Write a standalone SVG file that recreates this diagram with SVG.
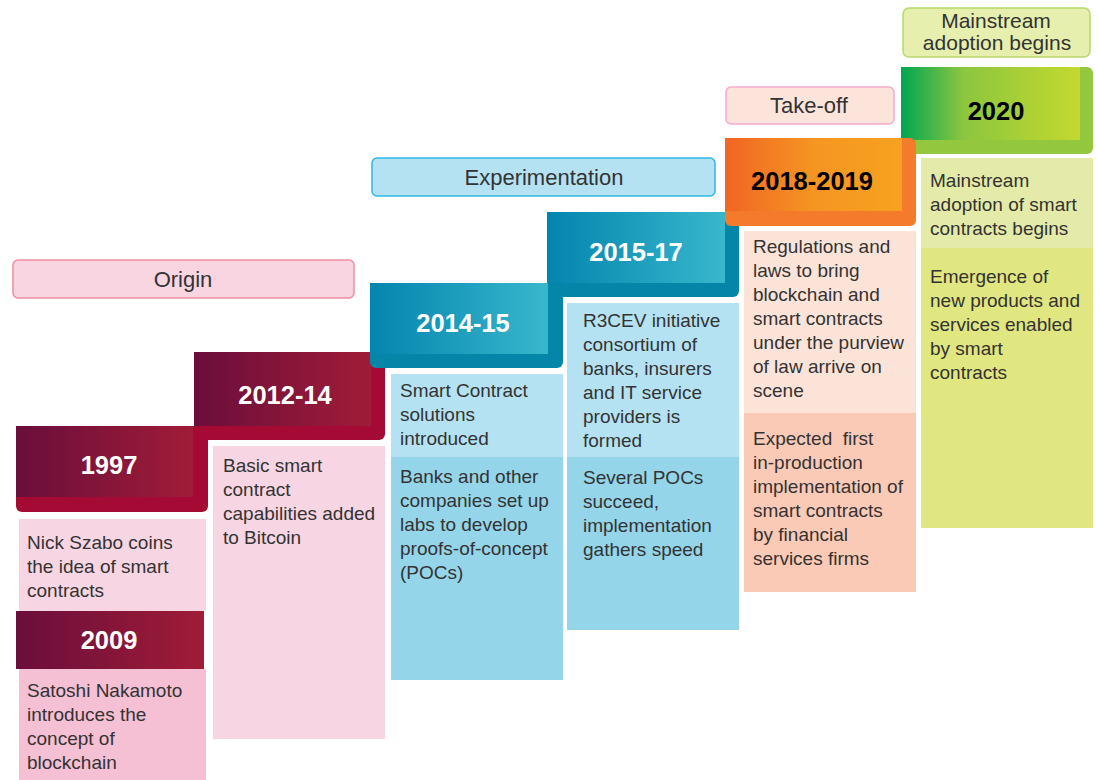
<svg xmlns="http://www.w3.org/2000/svg" width="1098" height="780" viewBox="0 0 1098 780">
<defs>
<linearGradient id="gRed" x1="0" y1="0" x2="1" y2="0"><stop offset="0" stop-color="#6a0e3b"/><stop offset="1" stop-color="#a01c37"/></linearGradient>
<linearGradient id="gTeal" x1="0" y1="0" x2="1" y2="0"><stop offset="0" stop-color="#0385ae"/><stop offset="1" stop-color="#38b7cc"/></linearGradient>
<linearGradient id="gOrange" x1="0" y1="0" x2="1" y2="0"><stop offset="0" stop-color="#f16524"/><stop offset="0.5" stop-color="#f59522"/><stop offset="1" stop-color="#f7a21f"/></linearGradient>
<linearGradient id="gGreen" x1="0" y1="0" x2="1" y2="0"><stop offset="0" stop-color="#00a651"/><stop offset="0.35" stop-color="#8cc63f"/><stop offset="1" stop-color="#c4d92e"/></linearGradient>
</defs>
<style>
.body{font-family:"Liberation Sans",Arial,sans-serif;font-size:19px;fill:#333333}
.yr{font-family:"Liberation Sans",Arial,sans-serif;font-size:25.5px;font-weight:bold;text-anchor:middle}
.w{fill:#ffffff}
.k{fill:#000000}
.lbl{font-family:"Liberation Sans",Arial,sans-serif;font-size:22px;fill:#333333;text-anchor:middle}
.stage{stroke-width:1.5}
</style>
<rect width="1098" height="780" fill="#ffffff"/>

<g id="label-origin">
<rect class="stage" x="13" y="260" width="341" height="38" rx="5" fill="#f9d5e2" stroke="#f08ea0"/>
<text class="lbl" x="183" y="287">Origin</text>
</g>
<g id="label-experimentation">
<rect class="stage" x="372" y="158" width="343" height="38" rx="5" fill="#b5e2f3" stroke="#2fb8e0"/>
<text class="lbl" x="544" y="185">Experimentation</text>
</g>
<g id="label-takeoff">
<rect class="stage" x="726" y="87" width="168" height="37" rx="5" fill="#fde4da" stroke="#f4aacb"/>
<text class="lbl" x="809" y="113">Take-off</text>
</g>
<g id="label-mainstream">
<rect class="stage" x="903" y="8" width="187" height="49" rx="6" fill="#e6efae" stroke="#b8d86b"/>
<text class="lbl" style="font-size:21px"><tspan x="996" y="28">Mainstream</tspan><tspan x="997" y="50">adoption begins</tspan></text>
</g>

<g id="node-2012-14">
<rect x="194" y="352" width="191" height="88" rx="6" fill="#a50a35"/>
<rect x="194" y="352" width="177" height="74" fill="url(#gRed)"/>
<text class="yr w" x="285" y="404">2012-14</text>
<rect x="213" y="446" width="172" height="293" fill="#f8d5e2"/>
<text class="body" x="223" y="472">Basic smart</text>
<text class="body" x="223" y="496">contract</text>
<text class="body" x="223" y="520">capabilities added</text>
<text class="body" x="223" y="544">to Bitcoin</text>
</g>

<g id="node-1997">
<rect x="16" y="426" width="192" height="86" rx="6" fill="#a50a35"/>
<rect x="16" y="426" width="177" height="71" fill="url(#gRed)"/>
<text class="yr w" x="109" y="474">1997</text>
<rect x="19" y="519" width="187" height="92" fill="#f8d5e2"/>
<text class="body" x="27" y="549">Nick Szabo coins</text>
<text class="body" x="27" y="573">the idea of smart</text>
<text class="body" x="27" y="597">contracts</text>
</g>

<g id="node-2009">
<rect x="16" y="611" width="188" height="58" fill="url(#gRed)"/>
<text class="yr w" x="109" y="649">2009</text>
<rect x="19" y="669" width="187" height="111" fill="#f5bfd4"/>
<text class="body" x="27" y="697">Satoshi Nakamoto</text>
<text class="body" x="27" y="721">introduces the</text>
<text class="body" x="27" y="745">concept of</text>
<text class="body" x="27" y="769">blockchain</text>
</g>

<g id="node-2015-17">
<rect x="547" y="212" width="192" height="85" rx="6" fill="#0585a8"/>
<rect x="547" y="212" width="178" height="71" fill="url(#gTeal)"/>
<text class="yr w" x="636" y="261">2015-17</text>
<rect x="567" y="303" width="172" height="154" fill="#b4e2f2"/>
<rect x="567" y="457" width="172" height="173" fill="#95d5ea"/>
<text class="body" x="583" y="327">R3CEV initiative</text>
<text class="body" x="583" y="351">consortium of</text>
<text class="body" x="583" y="375">banks, insurers</text>
<text class="body" x="583" y="399">and IT service</text>
<text class="body" x="583" y="423">providers is</text>
<text class="body" x="583" y="447">formed</text>
<text class="body" x="583" y="484">Several POCs</text>
<text class="body" x="583" y="508">succeed,</text>
<text class="body" x="583" y="532">implementation</text>
<text class="body" x="583" y="556">gathers speed</text>
</g>

<g id="node-2014-15">
<rect x="370" y="283" width="193" height="85" rx="6" fill="#0585a8"/>
<rect x="370" y="283" width="178" height="71" fill="url(#gTeal)"/>
<text class="yr w" x="463" y="332">2014-15</text>
<rect x="391" y="374" width="172" height="83" fill="#b4e2f2"/>
<rect x="391" y="457" width="172" height="223" fill="#95d5ea"/>
<text class="body" x="400" y="397">Smart Contract</text>
<text class="body" x="400" y="421">solutions</text>
<text class="body" x="400" y="445">introduced</text>
<text class="body" x="400" y="483">Banks and other</text>
<text class="body" x="400" y="507">companies set up</text>
<text class="body" x="400" y="531">labs to develop</text>
<text class="body" x="400" y="555">proofs-of-concept</text>
<text class="body" x="400" y="579">(POCs)</text>
</g>

<g id="node-2020">
<rect x="901" y="67" width="192" height="87" rx="6" fill="#93c83e"/>
<rect x="901" y="67" width="179" height="73" fill="url(#gGreen)"/>
<text class="yr k" x="996" y="120">2020</text>
<rect x="921" y="158" width="172" height="90" fill="#e4eba9"/>
<rect x="921" y="248" width="172" height="280" fill="#e0e680"/>
<text class="body" x="930" y="187">Mainstream</text>
<text class="body" x="930" y="211">adoption of smart</text>
<text class="body" x="930" y="235">contracts begins</text>
<text class="body" x="930" y="283">Emergence of</text>
<text class="body" x="930" y="307">new products and</text>
<text class="body" x="930" y="331">services enabled</text>
<text class="body" x="930" y="355">by smart</text>
<text class="body" x="930" y="379">contracts</text>
</g>

<g id="node-2018-2019">
<rect x="725" y="138" width="191" height="88" rx="6" fill="#f47b2c"/>
<rect x="725" y="138" width="177" height="73" fill="url(#gOrange)"/>
<text class="yr k" x="812" y="190">2018-2019</text>
<rect x="744" y="231" width="172" height="182" fill="#fce3d8"/>
<rect x="744" y="413" width="172" height="179" fill="#fbcab6"/>
<text class="body" x="753" y="253">Regulations and</text>
<text class="body" x="753" y="277">laws to bring</text>
<text class="body" x="753" y="301">blockchain and</text>
<text class="body" x="753" y="325">smart contracts</text>
<text class="body" x="753" y="349">under the purview</text>
<text class="body" x="753" y="373">of law arrive on</text>
<text class="body" x="753" y="397">scene</text>
<text class="body" x="753" y="445" xml:space="preserve">Expected  first</text>
<text class="body" x="753" y="469">in-production</text>
<text class="body" x="753" y="493">implementation of</text>
<text class="body" x="753" y="517">smart contracts</text>
<text class="body" x="753" y="541">by financial</text>
<text class="body" x="753" y="565">services firms</text>
</g>
</svg>
